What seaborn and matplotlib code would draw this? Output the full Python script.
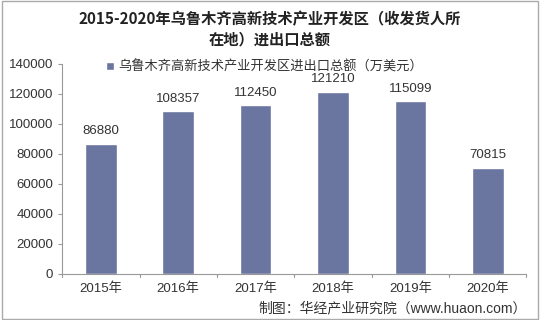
import pandas as pd
import seaborn as sns
import matplotlib.pyplot as plt
from matplotlib.patches import Rectangle

years = ['2015年', '2016年', '2017年', '2018年', '2019年', '2020年']
values = [86880, 108357, 112450, 121210, 115099, 70815]
series_name = '乌鲁木齐高新技术产业开发区进出口总额（万美元）'

df = pd.DataFrame({'year': years, 'value': values})

sns.set_style('white')
plt.rcParams['font.family'] = ['Liberation Sans', 'Noto Sans CJK SC']

fig = plt.figure(figsize=(5.4, 3.2), dpi=100)
ax = fig.add_axes([0.115, 0.144, 0.86, 0.656])

bar_color = '#6b76a0'
sns.barplot(data=df, x='year', y='value', color=bar_color, width=0.41,
            saturation=1, ax=ax, label=series_name)

for i, v in enumerate(values):
    ax.text(i, v + 4500, str(v), ha='center', va='bottom', fontsize=9.5, color='#333333')

ax.set_ylim(0, 140000)
ax.set_yticks(range(0, 140001, 20000))
ax.set_xlim(-0.5, 5.5)
ax.set_xlabel('')
ax.set_ylabel('')
ax.tick_params(axis='y', labelsize=9.5, colors='#333333', length=3, color='#999999', left=True)
ax.tick_params(axis='x', labelsize=9.5, colors='#333333', length=0, pad=6)
for s in ['top', 'right']:
    ax.spines[s].set_visible(False)
for s in ['left', 'bottom']:
    ax.spines[s].set_color('#999999')
    ax.spines[s].set_linewidth(0.8)
# small tick marks between categories
for b in [-0.5, 0.5, 1.5, 2.5, 3.5, 4.5, 5.5]:
    ax.plot([b, b], [0, -2000], color='#999999', lw=0.8, clip_on=False)

leg = ax.legend(loc='upper left', bbox_to_anchor=(0.07, 1.075), frameon=False,
                fontsize=9.5, handlelength=0.6, handleheight=0.6, handletextpad=0.3)
for t in leg.get_texts():
    t.set_color('#333333')

fig.text(0.5, 0.965, '2015-2020年乌鲁木齐高新技术产业开发区（收发货人所\n在地）进出口总额',
         ha='center', va='top', fontsize=11, fontweight='bold', color='#222222', linespacing=1.3,
         family=['Noto Sans CJK SC'])
fig.text(0.727, 0.035, '制图：华经产业研究院（www.huaon.com）', ha='center', va='center',
         fontsize=10, color='#333333')

fig.patches.append(Rectangle((0.003, 0.003), 0.994, 0.994, transform=fig.transFigure,
                             fill=False, edgecolor='#aaaaaa', lw=1))

fig.savefig('out.png', dpi=100)
